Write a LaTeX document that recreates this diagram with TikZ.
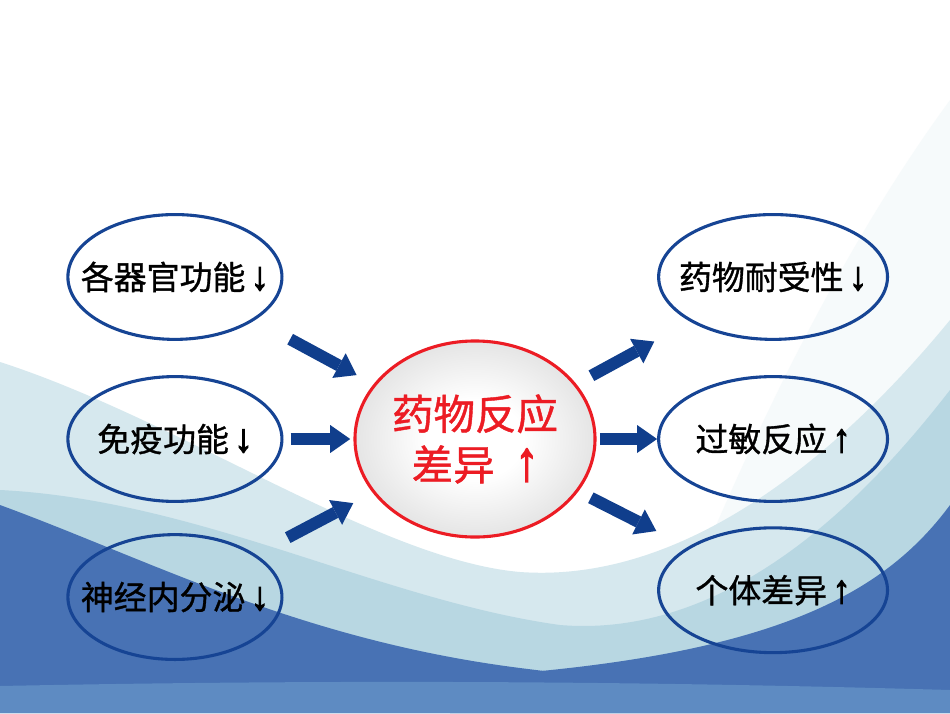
\documentclass[tikz,border=0pt]{standalone}
\usepackage{graphicx}
\usepackage{fontspec}
\setmainfont{Noto Sans CJK SC}[FakeBold=1]
\newfontfamily\arrowfont{Liberation Sans}[FakeBold=3]
\usetikzlibrary{shapes.geometric}
\usetikzlibrary{positioning}
\usetikzlibrary{arrows.meta}
\definecolor{linkblue}{RGB}{16,62,140}
\definecolor{rimblue}{RGB}{22,68,148}
\definecolor{hotred}{RGB}{236,28,36}
\definecolor{bgpale}{RGB}{214,232,238}
\definecolor{bgteal}{RGB}{172,208,222}
\definecolor{bgdeep}{RGB}{72,114,180}
\definecolor{bgsea}{RGB}{100,146,198}
\pgfdeclareradialshading{pearl}{\pgfpoint{0bp}{0bp}}{color(0bp)=(white); color(10bp)=(white); color(50bp)=(gray!55)}
\newcommand{\arrdn}{\,\scalebox{1.1}[1.2]{\arrowfont ↓}}
\newcommand{\arrup}{\,\scalebox{1.1}[1.2]{\arrowfont ↑}}
\newcommand{\arrupbig}{\enspace\scalebox{1.1}[1.35]{\arrowfont ↑}}

\begin{document}
\begin{tikzpicture}[x=0.025cm,y=-0.025cm,on grid,%
  every node/.style={inner sep=0pt},%
  factor/.style={ellipse,draw=rimblue,line width=2.2pt,inner xsep=-0.6cm,%
  minimum width=5.35cm,minimum height=3.12cm,font=\fontsize{23.4pt}{28pt}\selectfont},%
  effect/.style={factor,minimum width=5.72cm},%
  core/.style={ellipse,draw=hotred,line width=2.2pt,shade,shading=pearl,%
  minimum width=6cm,minimum height=4.9cm,text=hotred,align=center,%
  font=\fontsize{29.5pt}{36pt}\selectfont},%
  fat/.style={color=linkblue,line width=0.3cm,%
  -{Triangle[length=0.5cm,width=0.7cm,line width=0pt]}}]
  \useasboundingbox (0,0) rectangle (950,713);
  \fill[white] (0,0) rectangle (950,713);
  \fill[bgpale,opacity=.2] (640,713) .. controls (740,450) and (840,250) .. (950,100) |- cycle;
  \fill[bgpale] (0,362) .. controls (180,420) and (380,560) .. (520,572)
    .. controls (700,585) and (860,430) .. (950,320) |- (0,713) -- cycle;
  \fill[bgteal,opacity=.7] (0,490) .. controls (200,500) and (380,600) .. (560,625)
    .. controls (740,640) and (880,480) .. (950,390) |- (0,713) -- cycle;
  \fill[bgdeep] (0,505) .. controls (150,560) and (300,640) .. (520,668)
    .. controls (600,678) and (700,690) .. (760,713) -- (0,713) -- cycle;
  \fill[bgdeep] (950,505) .. controls (880,600) and (760,660) .. (450,678)
    -- (450,713) -- (950,713) -- cycle;
  \fill[bgsea,opacity=.8] (0,686) .. controls (300,680) and (600,680) .. (950,690)
    -- (950,713) -- (0,713) -- cycle;

  \node[core]    (drug)    at (475,439)                        {药物反应\\差异\arrupbig};
  \node[factor]  (organ)   [above left=4.05cm and 7.5cm of drug]  {各器官功能\arrdn};
  \node[factor]  (immune)  [left=7.5cm of drug]                   {免疫功能\arrdn};
  \node[factor]  (neuro)   [below left=3.95cm and 7.5cm of drug]  {神经内分泌\arrdn};
  \node[effect]  (tol)     [above right=4.05cm and 7.45cm of drug] {药物耐受性\arrdn};
  \node[effect]  (allergy) [right=7.45cm of drug]                 {过敏反应\arrup};
  \node[effect]  (indiv)   [below right=3.78cm and 7.45cm of drug] {个体差异\arrup};

  \draw[fat,shorten <=1cm,shorten >=0.48cm]    (organ)  -- (drug);
  \draw[fat,shorten <=0.18cm,shorten >=0.08cm] (immune) -- (drug);
  \draw[fat,shorten <=0.9cm,shorten >=0.55cm]  (neuro)  -- (drug);
  \draw[fat,shorten <=0.43cm,shorten >=1.03cm] (drug)   -- (tol);
  \draw[fat,shorten <=0.08cm]                  (drug)   -- (allergy);
  \draw[fat,shorten <=0.35cm,shorten >=0.88cm] (drug)   -- (indiv);
\end{tikzpicture}
\end{document}
